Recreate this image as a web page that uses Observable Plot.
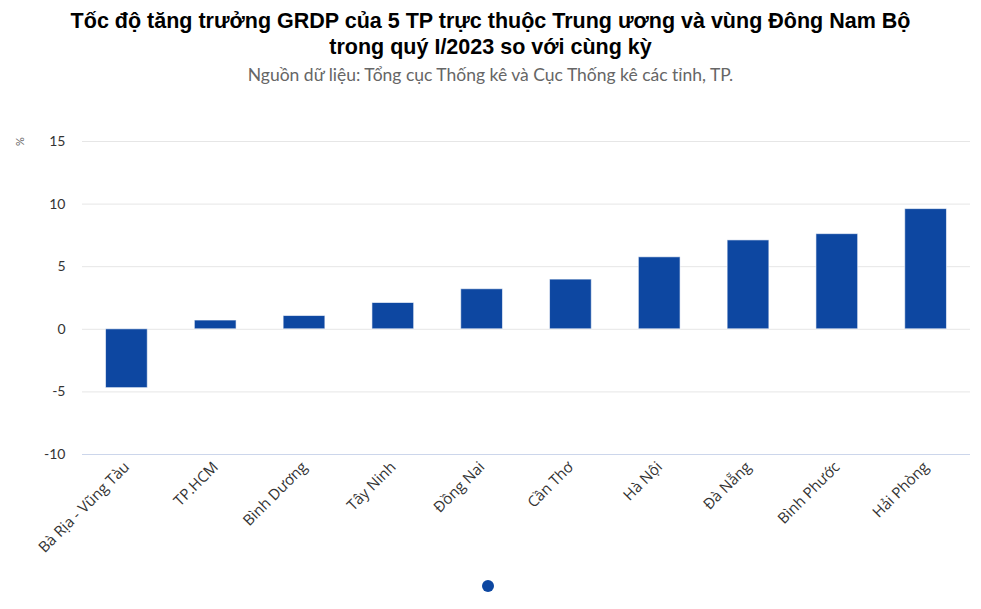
<!DOCTYPE html>
<html>
<head>
<meta charset="utf-8">
<script src="https://cdn.jsdelivr.net/npm/d3@7"></script>
<script src="https://cdn.jsdelivr.net/npm/@observablehq/plot@0.6"></script>
<style>
  html, body { margin: 0; padding: 0; background: #fff; }
  #wrap { position: relative; width: 981px; height: 609px; overflow: hidden; }
  #title { position: absolute; left: 0; top: 8px; width: 981px; text-align: center;
    font-family: "Liberation Sans", Arial, sans-serif; font-weight: bold; font-size: 21.5px;
    line-height: 26px; color: #000; }
  #subtitle { position: absolute; left: 0; top: 64px; width: 981px; text-align: center;
    font-family: Lato, "Open Sans", sans-serif; font-size: 17.5px; color: #666; }
  #chart { position: absolute; left: 0; top: 88px; }
  #unit { position: absolute; left: 15px; top: 135px; font-family: Lato, sans-serif;
    font-size: 11px; color: #666; transform: rotate(-90deg); transform-origin: center; }
  #dot { position: absolute; left: 482px; top: 580px; width: 12px; height: 12px;
    border-radius: 50%; background: #0d47a1; }
</style>
</head>
<body>
<div id="wrap">
  <div id="title">Tốc độ tăng trưởng GRDP của 5 TP trực thuộc Trung ương và vùng Đông Nam Bộ<br>trong quý I/2023 so với cùng kỳ</div>
  <div id="subtitle">Nguồn dữ liệu: Tổng cục Thống kê và Cục Thống kê các tỉnh, TP.</div>
  <div id="chart"></div>
  <div id="unit">%</div>
  <div id="dot"></div>
</div>
<script>
const categories = ["Bà Rịa - Vũng Tàu", "TP.HCM", "Bình Dương", "Tây Ninh", "Đồng Nai", "Cần Thơ", "Hà Nội", "Đà Nẵng", "Bình Phước", "Hải Phòng"];
const values = [-4.7, 0.7, 1.06, 2.1, 3.2, 3.97, 5.75, 7.1, 7.6, 9.6];
const yTicks = [-10, -5, 0, 5, 10, 15];

const data = categories.map((c, i) => ({ name: c, value: values[i] }));

const chart = Plot.plot({
  width: 981,
  height: 480,
  marginLeft: 82,
  marginRight: 11,
  marginTop: 53,
  marginBottom: 114,
  style: { fontFamily: "Lato, 'Open Sans', sans-serif", fontSize: "14px", color: "#333", background: "transparent" },
  x: { domain: categories, paddingInner: 0.53, paddingOuter: 0.265, round: false, label: null },
  y: { domain: [-10, 15], label: null },
  marks: [
    Plot.ruleY(yTicks.filter(d => d > -10), { stroke: "#e6e6e6", strokeWidth: 1 }),
    Plot.ruleY([-10], { stroke: "#ccd6eb", strokeWidth: 1 }),
    Plot.barY(data, { x: "name", y: "value", fill: "#0d47a1", stroke: "#ffffff", strokeWidth: 1, strokeOpacity: 0.6 }),
    Plot.axisY({ ticks: yTicks, tickFormat: d => String(d), tickSize: 0, tickPadding: 17, label: null, fontSize: 14, fill: "#333" }),
    Plot.axisX({ tickSize: 0, tickPadding: 10, tickRotate: -45, label: null, fontSize: 15, fill: "#333", fontFamily: "'Open Sans', sans-serif" })
  ]
});
document.getElementById("chart").appendChild(chart);
</script>
</body>
</html>
